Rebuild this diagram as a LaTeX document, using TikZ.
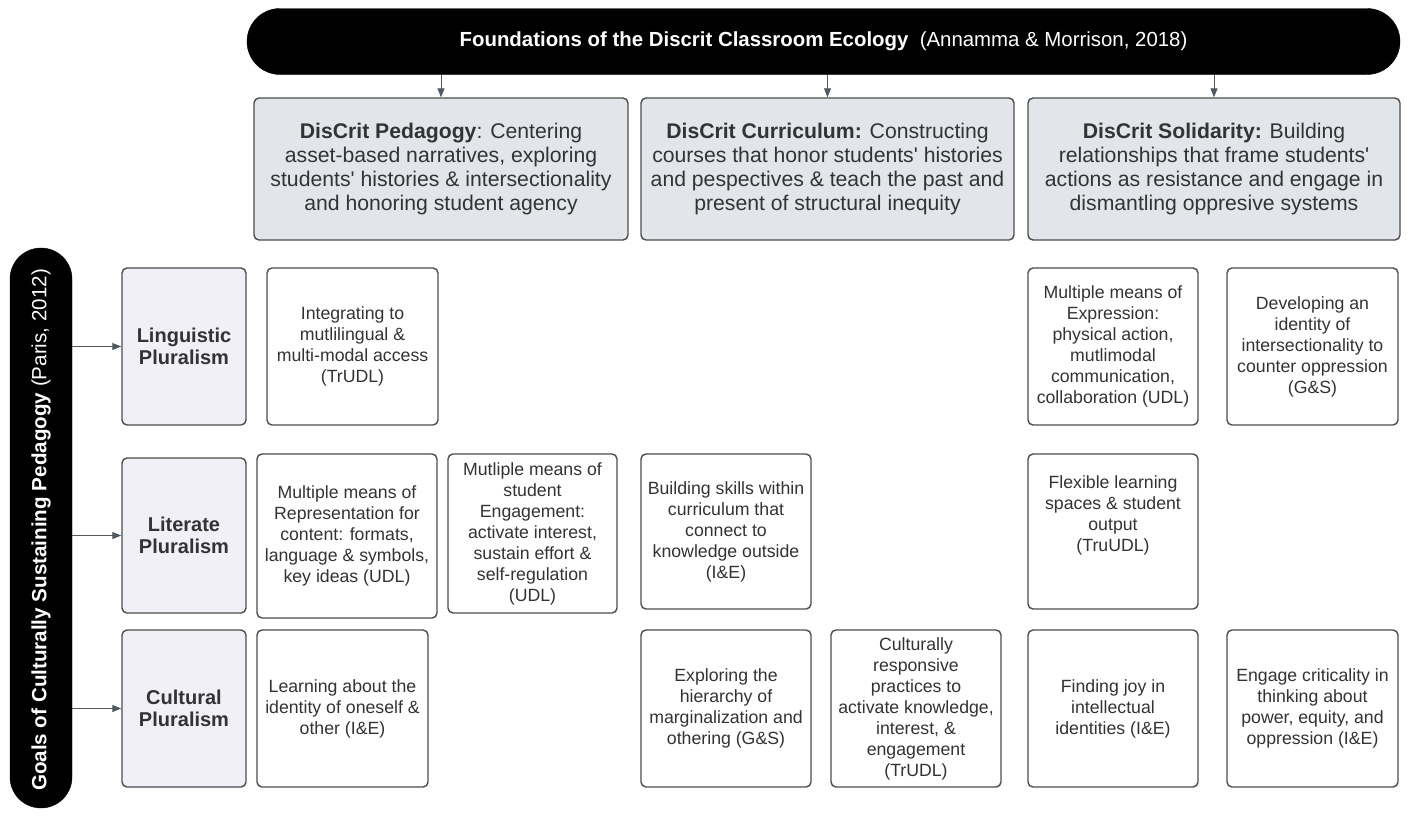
\documentclass[tikz,border=0pt]{standalone}
\usepackage{fontspec}
\setmainfont{Liberation Sans}
\usetikzlibrary{arrows.meta}
\definecolor{boxline}{HTML}{4D4D4D}
\definecolor{hdrfill}{HTML}{E2E5E9}
\definecolor{lblfill}{HTML}{F0F0F6}
\definecolor{txt}{HTML}{333333}
\definecolor{arrcol}{HTML}{505860}
\begin{document}
\begin{tikzpicture}[x=1pt,y=-1pt,
  box/.style={draw=boxline, line width=1.4pt, rounded corners=5pt, align=center, text=txt, inner sep=3pt, fill=white, font=\fontsize{17.7}{21}\selectfont},
  hdr/.style={box, fill=hdrfill, font=\fontsize{21.2}{24}\selectfont},
  lbl/.style={box, fill=lblfill, font=\bfseries\fontsize{20}{22.5}\selectfont},
  pill/.style={fill=black, draw=black, text=white},
  arr/.style={-{Triangle[length=9pt,width=7pt]}, draw=arrcol, line width=1pt}]
\useasboundingbox (0,0) rectangle (1408,817);
\fill[white] (0,0) rectangle (1408,817);

% top banner
\node[pill, rounded corners=33pt, minimum width=1153pt, minimum height=66pt] (top) at (823.5,41.5) {};
\node[text=white, font=\fontsize{20.4}{24}\selectfont] (toptext) at (top) {\textbf{Foundations of the Discrit Classroom Ecology}\ \ (Annamma \& Morrison, 2018)};

% left banner
\node[pill, rounded corners=31pt, minimum width=62pt, minimum height=560pt] (left) at (41,528) {};
\node[text=white, rotate=90, font=\fontsize{20.6}{24}\selectfont] (lefttext) at (41,530) {\textbf{Goals of Culturally Sustaining Pedagogy} (Paris, 2012)};

% header boxes
\node[hdr, minimum width=374pt, minimum height=142pt] (h1) at (441,169) {\textbf{DisCrit Pedagogy}: Centering\\asset-based narratives, exploring\\students\textquotesingle\ histories \& intersectionality\\and honoring student agency};
\node[hdr, minimum width=373pt, minimum height=142pt] (h2) at (827.5,169) {\textbf{DisCrit Curriculum:} Constructing\\courses that honor students\textquotesingle\ histories\\and pespectives \& teach the past and\\present of structural inequity};
\node[hdr, minimum width=372pt, minimum height=142pt] (h3) at (1214,169) {\textbf{DisCrit Solidarity:} Building\\relationships that frame students\textquotesingle\\actions as resistance and engage in\\dismantling oppresive systems};

\draw[arr] (h1.north |- top.south) -- (h1.north);
\draw[arr] (h2.north |- top.south) -- (h2.north);
\draw[arr] (h3.north |- top.south) -- (h3.north);

% row labels
\node[lbl, minimum width=124pt, minimum height=157pt] (l1) at (184,346.5) {Linguistic\\Pluralism};
\node[lbl, minimum width=124pt, minimum height=155pt] (l2) at (184,535.5) {Literate\\Pluralism};
\node[lbl, minimum width=124pt, minimum height=157pt] (l3) at (184,708.5) {Cultural\\Pluralism};

\draw[arr] (left.east |- l1.west) -- (l1.west);
\draw[arr] (left.east |- l2.west) -- (l2.west);
\draw[arr] (left.east |- l3.west) -- (l3.west);

% row 1
\node[box, minimum width=171pt, minimum height=157pt] (c11) at (352.5,346.5) {Integrating to\\mutlilingual \&\\multi-modal access\\(TrUDL)};
\node[box, minimum width=170pt, minimum height=157pt] (c14) at (1113,346.5) {Multiple means of\\Expression:\\physical action,\\mutlimodal\\communication,\\collaboration (UDL)};
\node[box, minimum width=171pt, minimum height=157pt] (c15) at (1312.5,346.5) {Developing an\\identity of\\intersectionality to\\counter oppression\\(G\&S)};

% row 2
\node[box, minimum width=180pt, minimum height=164pt] (c21) at (347,536) {Multiple means of\\Representation for\\content: formats,\\language \& symbols,\\key ideas (UDL)};
\node[box, minimum width=169pt, minimum height=159pt] (c22) at (532.5,533.5) {Mutliple means of\\student\\Engagement:\\activate interest,\\sustain effort \&\\self-regulation\\(UDL)};
\node[box, minimum width=170pt, minimum height=155pt] (c23) at (726,531.5) {Building skills within\\curriculum that\\connect to\\knowledge outside\\(I\&E)};
\node[box, minimum width=170pt, minimum height=155pt] (c24) at (1113,531.5) {Flexible learning\\spaces \& student\\output\\(TruUDL)\\[14pt]};

% row 3
\node[box, minimum width=171pt, minimum height=157pt] (c31) at (342.5,708.5) {Learning about the\\identity of oneself \&\\other (I\&E)};
\node[box, minimum width=170pt, minimum height=157pt] (c33) at (726,708.5) {Exploring the\\hierarchy of\\marginalization and\\othering (G\&S)};
\node[box, minimum width=170pt, minimum height=157pt] (c34) at (916,708.5) {Culturally\\responsive\\practices to\\activate knowledge,\\interest, \&\\engagement\\(TrUDL)};
\node[box, minimum width=170pt, minimum height=157pt] (c35) at (1113,708.5) {Finding joy in\\intellectual\\identities (I\&E)};
\node[box, minimum width=171pt, minimum height=157pt] (c36) at (1312.5,708.5) {Engage criticality in\\thinking about\\power, equity, and\\oppression (I\&E)};
\end{tikzpicture}
\end{document}
